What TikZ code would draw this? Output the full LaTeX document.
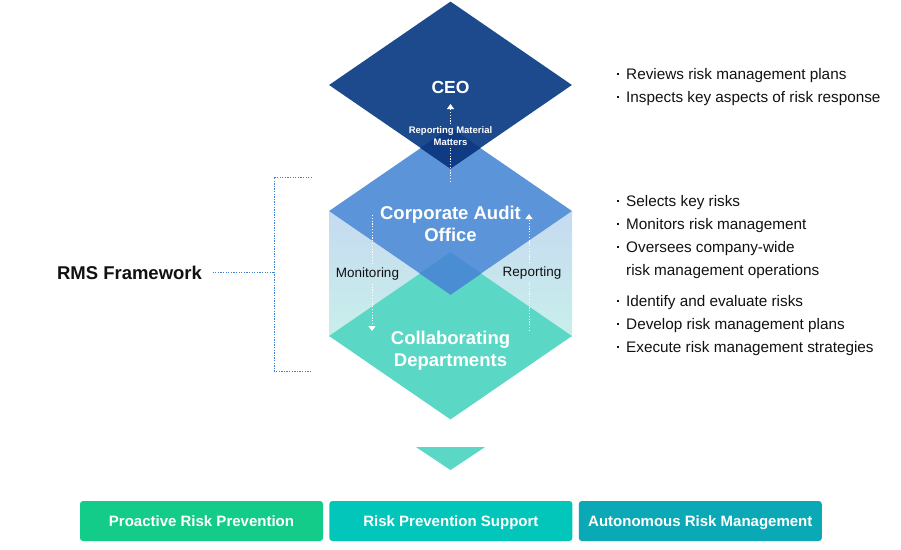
\documentclass[tikz,border=0pt]{standalone}
\usepackage{fontspec}
\setmainfont{Liberation Sans}
\usetikzlibrary{positioning, shapes.geometric, arrows.meta}

\definecolor{ceoblue}{HTML}{1C4A8C}
\definecolor{ceodeep}{HTML}{0F3B84}
\definecolor{auditblue}{HTML}{5B94D8}
\definecolor{auditdeep}{HTML}{4A8DD2}
\definecolor{deptteal}{HTML}{5BD7C6}
\definecolor{stripblue}{HTML}{C6DAF1}
\definecolor{stripteal}{HTML}{C8EFEA}
\definecolor{bracketblue}{HTML}{3F80D6}
\definecolor{boxgreen}{HTML}{14CC8A}
\definecolor{boxteal}{HTML}{02C6BA}
\definecolor{boxdark}{HTML}{0BA9B5}
\definecolor{ink}{HTML}{111111}

\newcommand\riskpt{\makebox[0pt][r]{\raisebox{4pt}{\rule{2pt}{2pt}}\hspace{7pt}}}

\begin{document}
\begin{tikzpicture}
		[
		x=1pt, y=-1pt,
		level/.style ={diamond, minimum width=243pt, minimum height=167pt, inner sep=0pt},
		title/.style ={text=white, font=\bfseries\fontsize{18.5}{23}\selectfont, align=center},
		flow/.style ={white, line width=0.9pt, dash pattern=on 1.2pt off 1.6pt},
		tag/.style ={text=ink, font=\fontsize{13.5}{15}\selectfont},
		note/.style ={text=ink, font=\fontsize{15.3}{23}\selectfont, anchor=west, inner sep=0pt, text height=11pt, text depth=3pt, align=left},
		bracket/.style ={bracketblue, line width=1pt, dash pattern=on 1.3pt off 1.3pt},
		result/.style ={rectangle, rounded corners=3pt, minimum width=243pt, minimum height=40pt, inner sep=0pt, text height=11pt, text depth=0pt, text=white, font=\bfseries\fontsize{15}{17}\selectfont}
		]
		\useasboundingbox (0,0) rectangle (901,549);
		% side strip behind the lower levels
		\shade[top color=stripblue, bottom color=stripteal] (329,211) rectangle (572,336);
		\node[level, fill=deptteal] (dept) at (450.5,336) {};
		\node[level, fill=auditblue] (audit) at (450.5,211) {};
		\begin{scope}
			\clip (dept.north) -- (dept.east) -- (dept.south) -- (dept.west) -- cycle;
			\fill[auditdeep] (audit.north) -- (audit.east) -- (audit.south) -- (audit.west) -- cycle;
		\end{scope}
		\node[level, fill=ceoblue] (ceo) at (450.5,85) {};
		\begin{scope}
			\clip (audit.north) -- (audit.east) -- (audit.south) -- (audit.west) -- cycle;
			\fill[ceodeep] (ceo.north) -- (ceo.east) -- (ceo.south) -- (ceo.west) -- cycle;
		\end{scope}
		\node[title, font=\bfseries\fontsize{17.5}{23}\selectfont] (ceotext) at (450.5,87) {CEO};
		\node[title] (audittext) at (450.5,223.5) {Corporate Audit\\[-1pt]Office};
		\node[title] (depttext) at (450.5,350.5) {Collaborating\\[-1pt]Departments};
		% reporting flows
		\node[text=white, font=\bfseries\fontsize{9.5}{12}\selectfont, align=center, inner sep=2pt] (rmm) at (450.5,136) {Reporting Material\\Matters};
		\coordinate (rmmfoot) at (450.5,182);
		\coordinate (rmmtip) at (450.5,104);
		\draw[flow] (rmmfoot) -- (rmm.south);
		\draw[flow, -{Triangle[width=7pt, length=5pt]}] (rmm.north) -- (rmmtip);
		\node[tag] (mon) at (367.5,274) {Monitoring};
		\coordinate (montop) at (372,215);
		\coordinate (monend) at (372,331);
		\draw[flow] (montop) -- (montop |- mon.north);
		\draw[flow, -{Triangle[width=7pt, length=5pt]}] (monend |- mon.south) -- (monend);
		\node[tag] (rep) at (532,273) {Reporting};
		\coordinate (repfoot) at (529,331);
		\coordinate (reptip) at (529,214);
		\draw[flow] (repfoot) -- (repfoot |- rep.south);
		\draw[flow, -{Triangle[width=7pt, length=5pt]}] (reptip |- rep.north) -- (reptip);
		% framework bracket
		\node[text=ink, font=\bfseries\fontsize{18.5}{22}\selectfont] (rms) at (129.5,273) {RMS Framework};
		\coordinate (brtop) at (312,177);
		\coordinate (brmid) at (274,272);
		\coordinate (brbot) at (312,371);
		\draw[bracket] (brtop) -| (brmid) |- (brbot);
		\draw[bracket] ([xshift=7pt]rms.east |- brmid) -- (brmid);
		% roles
		\node[note] (ceo1) at (626,75) {\riskpt Reviews risk management plans};
		\node[note] (ceo2) at (626,98) {\riskpt Inspects key aspects of risk response};
		\node[note] (aud1) at (626,202) {\riskpt Selects key risks};
		\node[note] (aud2) at (626,225) {\riskpt Monitors risk management};
		\node[note] (aud3) at (626,248) {\riskpt Oversees company-wide};
		\node[note] (aud4) at (626,271) {risk management operations};
		\node[note] (dep1) at (626,302) {\riskpt Identify and evaluate risks};
		\node[note] (dep2) at (626,325) {\riskpt Develop risk management plans};
		\node[note] (dep3) at (626,348) {\riskpt Execute risk management strategies};
		% outcome
		\fill[deptteal] (416,447) -- (485,447) -- (450.5,470) -- cycle;
		\node[result, fill=boxgreen] (pro) at (201.5,521) {Proactive Risk Prevention};
		\node[result, fill=boxteal, right=6pt of pro] (sup) {Risk Prevention Support};
		\node[result, fill=boxdark, right=6pt of sup] (aut) {Autonomous Risk Management};
	\end{tikzpicture}
\end{document}
